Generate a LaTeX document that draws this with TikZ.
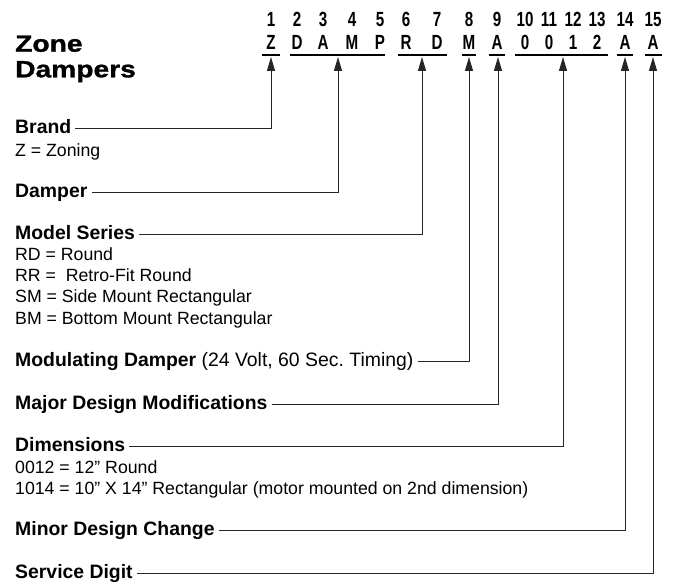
\documentclass[tikz,border=0pt]{standalone}
\usepackage{fontspec}
\setmainfont{Liberation Sans}
\newfontfamily\codefont{Liberation Sans}[FakeStretch=0.74]
\newfontfamily\titlefont{Liberation Sans}[FakeStretch=1.2, FakeBold=1.2]
\usetikzlibrary{arrows.meta}

\begin{document}
\begin{tikzpicture}[x=1pt,y=-1pt,
    headline/.style={font=\titlefont\bfseries\fontsize{23.5}{26}\selectfont, anchor=base west, inner sep=0pt},
    digit/.style={font=\codefont\bfseries\fontsize{20.5}{20.5}\selectfont, anchor=base, inner sep=0pt},
    field/.style={font=\bfseries\fontsize{19.4}{22}\selectfont, anchor=base west, inner xsep=4pt, inner ysep=0pt, text height=13pt, text depth=3pt},
    desc/.style={font=\fontsize{17.7}{21}\selectfont, anchor=base west, inner sep=0pt},
    uline/.style={draw=black, line width=1.2pt},
    arr/.style={draw=black!85, line width=1pt, -{Triangle[length=14pt,width=8pt]}}]
    \useasboundingbox (0,0) rectangle (675,583);

    \node[headline] (zone) at (15,51.7) {Zone};
    \node[headline] (dampers) at (15,77.3) {Dampers};

    % position numbers and model code
    \foreach \n/\x/\c in {1/271/Z, 2/297/D, 3/323/A, 4/352/M, 5/380/P,
        6/406/R, 7/437/D, 8/469/M, 9/497/A, 10/525/0, 11/549/0, 12/573/1,
        13/597/2, 14/625/A, 15/653/A} {
        \node[digit] (n\n) at (\x,27) {\n};
        \node[digit] (c\n) at (\x,50) {\c};
    }
    \foreach \a/\b in {262/280, 290/385, 398/447, 462/476, 489/505, 515/608, 617/633, 645/662}
        \draw[uline] (\a,55) -- (\b,55);

    \coordinate (tBrand) at (271,57);
    \coordinate (tDamper) at (338,57);
    \coordinate (tSeries) at (422,57);
    \coordinate (tModul) at (469,57);
    \coordinate (tMajor) at (498,57);
    \coordinate (tDims) at (563,57);
    \coordinate (tMinor) at (625,57);
    \coordinate (tService) at (653,57);

    \node[field] (brand) at (11,133.3) {Brand};
    \node[desc] (zoning) at (15,156.7) {Z = Zoning};

    \node[field] (damper) at (11,197.3) {Damper};

    \node[field] (series) at (11,239) {Model Series};
    \node[desc] (rd) at (15,260) {RD = Round};
    \node[desc] (rr) at (15,281) {RR =\ \ Retro-Fit Round};
    \node[desc] (sm) at (15,302) {SM = Side Mount Rectangular};
    \node[desc] (bm) at (15,324) {BM = Bottom Mount Rectangular};

    \node[field] (modul) at (11,366.7) {Modulating Damper \mdseries(24 Volt, 60 Sec.\ Timing)};

    \node[field] (major) at (11,409) {Major Design Modifications};

    \node[field] (dims) at (11,451.7) {Dimensions};
    \node[desc] (d12) at (15,473.3) {0012 = 12\symbol{34} Round};
    \node[desc] (d14) at (15,494.5) {1014 = 10\symbol{34} X 14\symbol{34} Rectangular (motor mounted on 2nd dimension)};

    \node[field] (minor) at (11,535) {Minor Design Change};

    \node[field] (service) at (11,578.3) {Service Digit};

    \draw[arr] (brand.east) -| (tBrand);
    \draw[arr] (damper.east) -| (tDamper);
    \draw[arr] (series.east) -| (tSeries);
    \draw[arr] (modul.east) -| (tModul);
    \draw[arr] (major.east) -| (tMajor);
    \draw[arr] (dims.east) -| (tDims);
    \draw[arr] (minor.east) -| (tMinor);
    \draw[arr] (service.east) -| (tService);
\end{tikzpicture}
\end{document}
